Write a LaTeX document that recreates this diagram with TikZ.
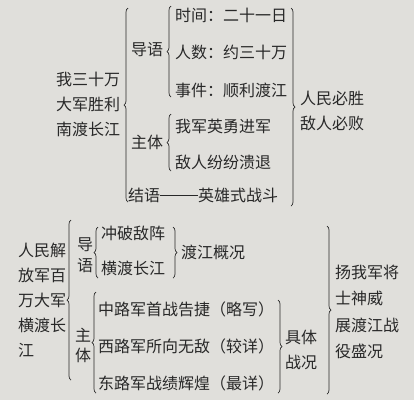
\documentclass[tikz,border=0pt]{standalone}
\usepackage{fontspec}
\setmainfont{Noto Sans CJK SC}
\usetikzlibrary{decorations.pathreplacing}
\definecolor{bg}{RGB}{224,223,219}
\definecolor{ink}{RGB}{40,40,40}
\begin{document}
\begin{tikzpicture}[x=1pt,y=-1pt,
  txt/.style={inner sep=0pt, anchor=west, text=ink, font=\fontsize{16}{25}\selectfont, align=left},
  br/.style={draw=ink, line width=0.7pt, decorate, decoration={brace, amplitude=4pt}}]
\fill[bg] (0,0) rectangle (414,400);
\useasboundingbox (0,0) rectangle (414,400);
% top part
\node[txt] (t1) at (56,104) {我三十万\\大军胜利\\南渡长江};
\draw[br] (128,202) -- (128,8);
\node[txt] (dy) at (131,50) {导语};
\draw[br] (171,97) -- (171,6);
\node[txt] (a1) at (175,15) {时间：二十一日};
\node[txt] (a2) at (175,52) {人数：约三十万};
\node[txt] (a3) at (175,90) {事件：顺利渡江};
\node[txt] (zt) at (131,142) {主体};
\draw[br] (171,171) -- (171,114);
\node[txt] (b1) at (175,126) {我军英勇进军};
\node[txt] (b2) at (175,162) {敌人纷纷溃退};
\node[txt] (jy) at (128,195) {结语};
\node[txt] (yx) at (198,195) {英雄式战斗};
\draw[ink, line width=0.7pt] (jy.east) -- (yx.west);
\draw[br] (291,8) -- (291,206);
\node[txt] (r1) at (300,111) {人民必胜\\敌人必败};
% bottom part
\node[txt] (L) at (18,300) {人民解\\放军百\\万大军\\横渡长\\江};
\draw[br] (71,380) -- (71,220);
\node[txt, font=\fontsize{16}{21}\selectfont] (dy2) at (77,255) {导\\语};
\draw[br] (98,278) -- (98,227);
\node[txt] (c1) at (101,233) {冲破敌阵};
\node[txt] (c2) at (101,268) {横渡长江};
\draw[br] (173,227) -- (173,278);
\node[txt] (gk) at (181,252) {渡江概况};
\node[txt, font=\fontsize{16}{20}\selectfont] (zt2) at (75,345) {主\\体};
\draw[br] (96,393) -- (96,292);
\node[txt] (d1) at (98,309) {中路军首战告捷（略写）};
\node[txt] (d2) at (98,346) {西路军所向无敌（较详）};
\node[txt] (d3) at (98,383) {东路军战绩辉煌（最详）};
\draw[br] (278,300) -- (278,393);
\node[txt] (jt) at (285,350) {具体\\战况};
\draw[br] (327,226) -- (327,394);
\node[txt, font=\fontsize{16}{26.5}\selectfont] (ys) at (335,312) {扬我军将\\士神威\\展渡江战\\役盛况};
\end{tikzpicture}
\end{document}
